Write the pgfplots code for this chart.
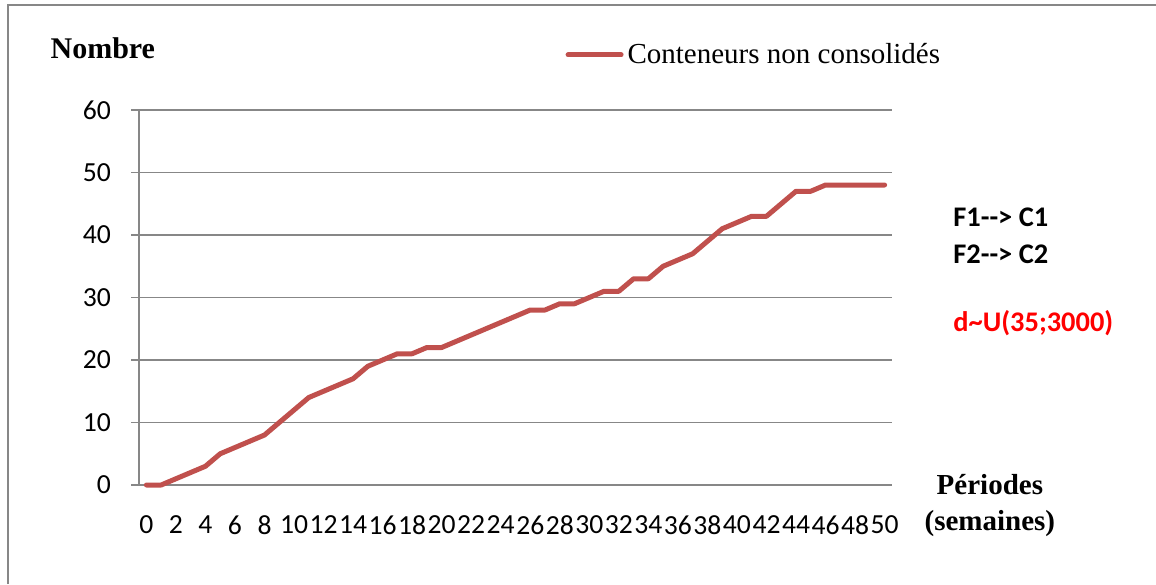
\documentclass[border=0pt]{standalone}
\usepackage{fontspec}
\setmainfont{Carlito}
\newfontfamily\tnr{Liberation Serif}
\usepackage{pgfplots}
\pgfplotsset{compat=1.18}
\definecolor{serie}{HTML}{C0504D}
\definecolor{grille}{HTML}{878787}

\begin{document}
\begin{tikzpicture}[x=0.5pt,y=-0.5pt]
\path[use as bounding box] (0,0) rectangle (1156,584);
\draw[grille, line width=0.8pt] (8,584) -- (8,5) -- (1156,5);
\begin{axis}[
  at={(69.5pt,-242.5pt)}, anchor=south west,
  scale only axis, width=376.5pt, height=187.5pt,
  xmin=-0.5, xmax=50.5, ymin=0, ymax=60,
  xtick={0,2,...,50}, ytick={0,10,...,60},
  axis lines*=left,
  axis line style={-, draw=grille, line width=0.8pt},
  ymajorgrids, major grid style={draw=grille, line width=0.8pt},
  xtick style={draw=none},
  ytick style={draw=grille, line width=0.8pt},
  tick align=outside, major tick length=4pt,
  /pgf/number format/assume math mode=true,
  tick label style={font=\fontsize{13.8}{15}\selectfont},
  x tick label style={yshift=-8pt, inner xsep=0pt},
  y tick label style={xshift=-6.5pt},
  ylabel={\tnr\bfseries Nombre},
  ylabel style={at={(axis description cs:-0.048,1.165)}, rotate=-90, anchor=center, font=\fontsize{15}{17}\selectfont},
  xlabel={\tnr\bfseries Périodes\\\tnr\bfseries (semaines)},
  xlabel style={at={(axis description cs:1.130,-0.055)}, anchor=center, align=center, font=\fontsize{14.5}{18}\selectfont},
  legend style={at={(axis description cs:0.566,1.147)}, anchor=west, draw=none, fill=none,
    inner sep=0pt, font=\tnr\fontsize{14.5}{16}\selectfont},
  legend image code/.code={\draw[#1] (0pt,0pt) -- (26.5pt,0pt);},
  clip=false,
]
\addplot[serie, line width=2.5pt, line join=round, line cap=round] coordinates {
(0,0) (1,0) (2,1) (3,2) (4,3) (5,5) (6,6) (7,7) (8,8) (9,10)
(10,12) (11,14) (12,15) (13,16) (14,17) (15,19) (16,20) (17,21) (18,21) (19,22)
(20,22) (21,23) (22,24) (23,25) (24,26) (25,27) (26,28) (27,28) (28,29) (29,29)
(30,30) (31,31) (32,31) (33,33) (34,33) (35,35) (36,36) (37,37) (38,39) (39,41)
(40,42) (41,43) (42,43) (43,45) (44,47) (45,47) (46,48) (47,48) (48,48) (49,48)
(50,48)
};
\addlegendentry{Conteneurs non consolidés}
\end{axis}
\begin{scope}[font=\bfseries\fontsize{14.2}{16}\selectfont]
\node[anchor=west, inner sep=0pt] at (953,217) {F1-{}-> C1};
\node[anchor=west, inner sep=0pt] at (953,254) {F2-{}-> C2};
\node[anchor=west, inner sep=0pt, text=red] at (953,323) {d\textasciitilde U(35;3000)};
\end{scope}
\end{tikzpicture}
\end{document}
